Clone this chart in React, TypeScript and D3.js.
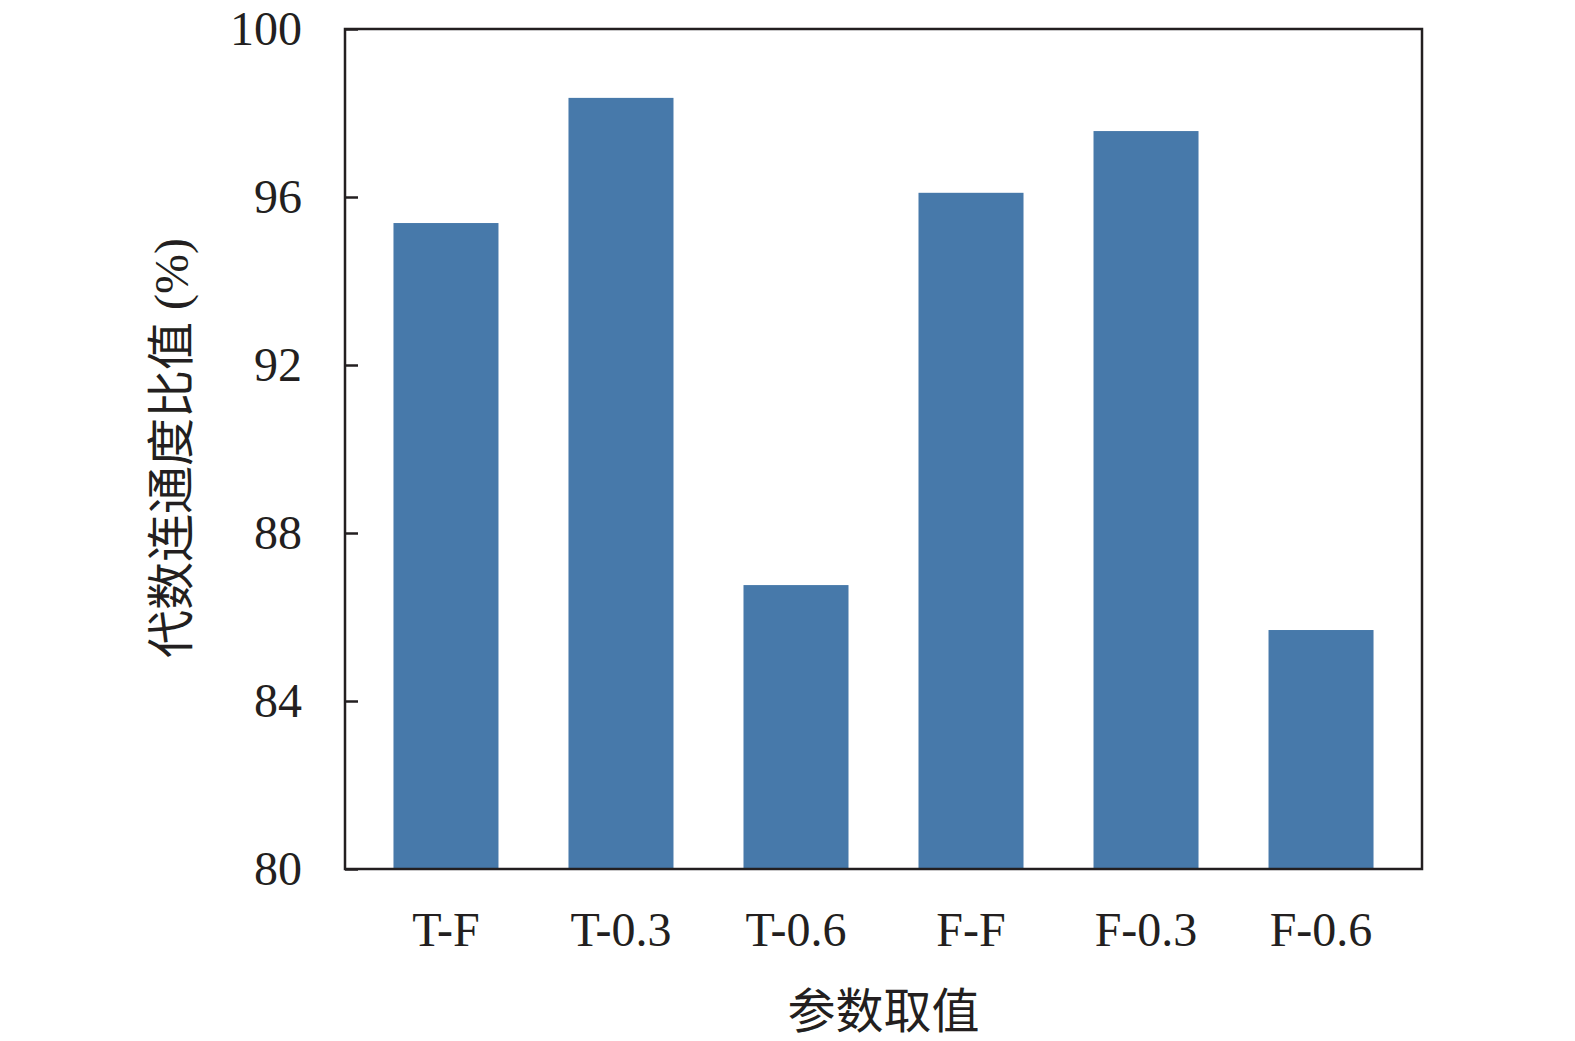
import React, { useEffect, useRef } from "react";
import * as d3 from "d3";

const categories = ["T-F", "T-0.3", "T-0.6", "F-F", "F-0.3", "F-0.6"];
const values = [95.38, 98.36, 86.76, 96.1, 97.57, 85.69];
const yTicks = [80, 84, 88, 92, 96, 100];

function App() {
  const svgRef = useRef<SVGSVGElement>(null);

  useEffect(() => {
    if (!svgRef.current) return;
    const width = 1575;
    const height = 1041;
    const margin = { top: 29, right: 153, bottom: 172, left: 345 };
    const innerW = width - margin.left - margin.right;
    const innerH = height - margin.top - margin.bottom;
    const serif = "'Liberation Serif', 'Times New Roman', 'Noto Sans CJK SC', serif";

    const svg = d3.select(svgRef.current);
    svg.selectAll("*").remove();

    const x = d3
      .scaleBand<string>()
      .domain(categories)
      .range([0, innerW])
      .paddingInner(0.4)
      .paddingOuter(0.277);

    const y = d3.scaleLinear().domain([80, 100]).range([innerH, 0]);

    const g = svg.append("g").attr("transform", `translate(${margin.left},${margin.top})`);

    g.selectAll("rect.bar")
      .data(values)
      .join("rect")
      .attr("class", "bar")
      .attr("x", (_, i) => x(categories[i])!)
      .attr("width", x.bandwidth())
      .attr("y", (d) => y(d))
      .attr("height", (d) => innerH - y(d))
      .attr("fill", "#4779aa");

    // y axis, ticks point inward
    const yAxis = g
      .append("g")
      .call(d3.axisLeft(y).tickValues(yTicks).tickSizeInner(-13).tickSizeOuter(0).tickPadding(43));
    yAxis.select(".domain").remove();
    yAxis.selectAll("line").attr("stroke", "#231f20").attr("stroke-width", 2.5);
    yAxis
      .selectAll("text")
      .attr("font-family", serif)
      .attr("font-size", 48)
      .attr("fill", "#231f20");

    g.selectAll("text.xl")
      .data(categories)
      .join("text")
      .attr("class", "xl")
      .attr("x", (d) => x(d)! + x.bandwidth() / 2)
      .attr("y", innerH + 77)
      .attr("text-anchor", "middle")
      .attr("font-family", serif)
      .attr("font-size", 48)
      .attr("fill", "#231f20")
      .text((d) => d);

    g.append("rect")
      .attr("x", 0)
      .attr("y", 0)
      .attr("width", innerW)
      .attr("height", innerH)
      .attr("fill", "none")
      .attr("stroke", "#231f20")
      .attr("stroke-width", 2.5);

    svg
      .append("text")
      .attr("x", margin.left + innerW / 2)
      .attr("y", 1028)
      .attr("text-anchor", "middle")
      .attr("font-family", serif)
      .attr("font-size", 48)
      .attr("fill", "#231f20")
      .text("参数取值");

    svg
      .append("text")
      .attr("transform", `translate(188,${margin.top + innerH / 2 - 1}) rotate(-90)`)
      .attr("text-anchor", "middle")
      .attr("font-family", serif)
      .attr("font-size", 48)
      .attr("fill", "#231f20")
      .text("代数连通度比值 (%)");
  }, []);

  return (
    <div style={{ position: "absolute", left: 0, top: 0 }}>
      <svg ref={svgRef} width={1575} height={1041} style={{ display: "block", background: "#fff" }} />
    </div>
  );
}

export default App;
